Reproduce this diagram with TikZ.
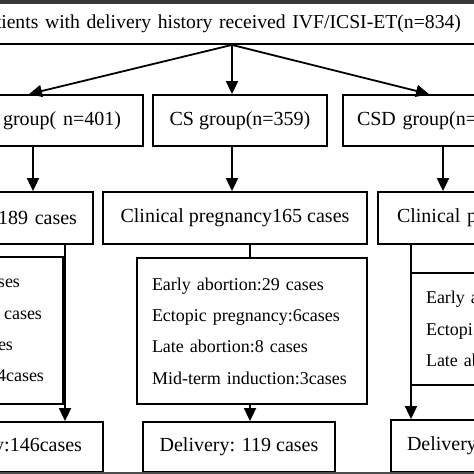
\documentclass[tikz,border=0pt]{standalone}
\usepackage{fontspec}
\setmainfont{Liberation Serif}
\usetikzlibrary{arrows.meta}
\newcommand\gapbox[1]{\makebox[#1]{}}
\begin{document}
\begin{tikzpicture}[x=1pt,y=-1pt,
  box/.style={draw, line width=1.8pt, inner sep=0pt, font=\fontsize{20}{24}\selectfont},
  lst/.style={box, font=\fontsize{18}{31.3}\selectfont},
  arr/.style={line width=1.8pt, -{Triangle[length=13pt,width=12pt]}},
  conn/.style={line width=1.8pt},
  edgebar/.style={fill=black!78, draw=none}]
\useasboundingbox (0,0) rectangle (474,474);
\clip (0,0) rectangle (474,474);
\fill[white] (0,0) rectangle (474,474);
% coordinates fixing connector x positions
\coordinate (x29) at (29,0);
\coordinate (x33) at (33,0);
\coordinate (x65) at (65,0);
\coordinate (x232) at (232,0);
\coordinate (x250) at (250,0);
\coordinate (x411) at (411,0);
\coordinate (x429) at (429,0);
\coordinate (x443) at (443,0);
% top
\node[box, font=\fontsize{19.7}{24}\selectfont, align=right, inner xsep=29pt, text width=480pt, minimum height=41pt] (top) at (221,23.5)
  {tients with delivery history received IVF/ICSI-ET(n=834)};
% row 1
\node[box, align=right, inner xsep=22pt, text width=140pt, minimum height=51pt] (g1L) at (51,120.5) {group( n=401)};
\node[box, minimum width=174pt, minimum height=51pt] (g1M) at (240,120.5) {CS group(n=359)};
\node[box, align=left, inner xsep=14pt, text width=160pt, minimum height=51pt] (g1R) at (437,120.5) {CSD group(n=};
% row 2
\node[box, align=right, inner xsep=16pt, text width=120pt, minimum height=52pt] (r2L) at (17,218) {189 cases};
\node[box, minimum width=264pt, minimum height=52pt] (r2M) at (235,218) {Clinical pregnancy165 cases};
\node[box, align=left, inner xsep=19pt, text width=120pt, minimum height=52pt] (r2R) at (457,218) {Clinical p};
% row 3 lists
\node[lst, align=right, inner xsep=19pt, text width=200pt, minimum height=147pt] (l3L) at (-56,330.5)
  {ses\gapbox{24pt}\\ cases\gapbox{2pt}\\es\gapbox{31pt}\\4cases};
\node[lst, align=left, inner xsep=15pt, text width=200pt, minimum height=146pt] (l3M) at (252,331)
  {Early abortion:29 cases\\Ectopic pregnancy:6cases\\Late abortion:8 cases\\Mid-term induction:3cases};
\node[lst, font=\fontsize{18}{31.5}\selectfont, align=left, inner xsep=15pt, text width=120pt, minimum height=112pt] (l3R) at (486,329)
  {Early a\\Ectopi\\Late ab};
% row 4
\node[box, align=right, inner xsep=21pt, text width=120pt, minimum height=50pt] (dL) at (22,447) {ry:146cases};
\node[box, minimum width=192pt, minimum height=50pt] (dM) at (239,447) {Delivery: 119 cases};
\node[box, align=left, inner xsep=16pt, text width=120pt, minimum height=52pt] (dR) at (467,446) {Delivery};
% connectors
\coordinate (hub) at (top.south -| x232);
\draw[arr] (hub) -- (g1L.north -| x29);
\draw[arr] (hub) -- (g1M.north -| x232);
\draw[arr] (hub) -- (g1R.north -| x429);
\draw[arr] (g1L.south -| x33) -- (r2L.north -| x33);
\draw[arr] (g1M.south -| x232) -- (r2M.north -| x232);
\draw[arr] (g1R.south -| x443) -- (r2R.north -| x443);
\draw[arr] (r2L.south -| x65) -- (dL.north -| x65);
\draw[conn] (r2M.south -| x250) -- (l3M.north -| x250);
\draw[arr] (l3M.south -| x250) -- (dM.north -| x250);
\draw[arr] (r2R.south -| x411) -- (dR.north -| x411);
% image edge bars
\path[edgebar] (0,0) rectangle (474,4);
\path[edgebar, fill=black!70] (0,471.5) rectangle (474,474);
\end{tikzpicture}
\end{document}
